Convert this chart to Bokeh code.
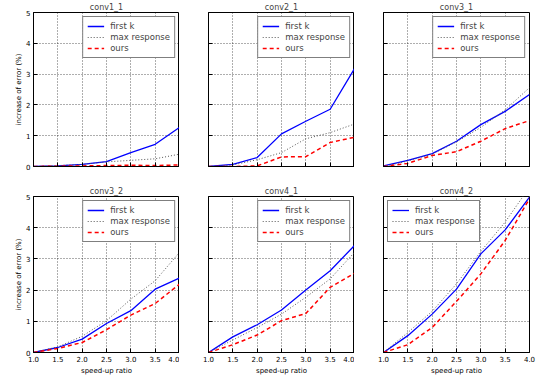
from bokeh.plotting import figure
from bokeh.layouts import column, row
from bokeh.models import Range1d, FixedTicker, Legend, LegendItem, ColumnDataSource
from bokeh.embed import file_html
from bokeh.resources import INLINE

speedup = [1.0, 1.5, 2.0, 2.5, 3.0, 3.5, 4.0]
x_ticks = [1.0, 1.5, 2.0, 2.5, 3.0, 3.5, 4.0]
x_tick_labels = ["1.0", "1.5", "2.0", "2.5", "3.0", "3.5", "4.0"]
y_ticks = [0, 1, 2, 3, 4, 5]
series_names = ["first k", "max response", "ours"]
layers = ["conv1_1", "conv2_1", "conv3_1", "conv3_2", "conv4_1", "conv4_2"]

conv1_1_first_k = [0.0, 0.02, 0.07, 0.16, 0.45, 0.72, 1.27]
conv1_1_max_resp = [0.0, 0.03, 0.07, 0.15, 0.20, 0.25, 0.40]
conv1_1_ours = [0.0, 0.01, 0.02, 0.03, 0.04, 0.03, 0.05]

conv2_1_first_k = [0.0, 0.07, 0.29, 1.06, 1.47, 1.86, 3.18]
conv2_1_max_resp = [0.0, 0.05, 0.22, 0.45, 0.90, 1.10, 1.38]
conv2_1_ours = [0.0, 0.0, 0.02, 0.31, 0.32, 0.78, 0.95]

conv3_1_first_k = [0.02, 0.20, 0.42, 0.82, 1.36, 1.79, 2.34]
conv3_1_max_resp = [0.0, 0.18, 0.40, 0.80, 1.27, 1.84, 2.56]
conv3_1_ours = [0.0, 0.10, 0.36, 0.48, 0.82, 1.23, 1.49]

conv3_2_first_k = [0.0, 0.16, 0.43, 0.93, 1.34, 2.03, 2.39]
conv3_2_max_resp = [0.0, 0.18, 0.52, 1.02, 1.71, 2.30, 3.21]
conv3_2_ours = [0.0, 0.13, 0.32, 0.73, 1.20, 1.57, 2.19]

conv4_1_first_k = [0.0, 0.50, 0.89, 1.36, 2.00, 2.62, 3.43]
conv4_1_max_resp = [0.0, 0.40, 0.80, 1.23, 1.77, 2.36, 3.21]
conv4_1_ours = [0.0, 0.25, 0.56, 1.02, 1.25, 2.09, 2.54]

conv4_2_first_k = [0.0, 0.54, 1.23, 2.03, 3.16, 3.93, 4.98]
conv4_2_max_resp = [0.0, 0.64, 1.32, 2.20, 3.24, 4.18, 5.30]
conv4_2_ours = [0.0, 0.25, 0.80, 1.64, 2.52, 3.59, 4.93]

data = {
    "conv1_1": (conv1_1_first_k, conv1_1_max_resp, conv1_1_ours),
    "conv2_1": (conv2_1_first_k, conv2_1_max_resp, conv2_1_ours),
    "conv3_1": (conv3_1_first_k, conv3_1_max_resp, conv3_1_ours),
    "conv3_2": (conv3_2_first_k, conv3_2_max_resp, conv3_2_ours),
    "conv4_1": (conv4_1_first_k, conv4_1_max_resp, conv4_1_ours),
    "conv4_2": (conv4_2_first_k, conv4_2_max_resp, conv4_2_ours),
}

FONT = "DejaVu Sans"


def make(idx):
    name = layers[idx]
    r, c = divmod(idx, 3)
    left = 33 if c == 0 else 29
    right = 25 if c == 2 else 0
    top = 0 if r == 0 else 25
    bottom = 5 if r == 0 else 24
    fh = 154 if r == 0 else 156
    p = figure(frame_width=146, frame_height=fh,
               min_border_left=left, min_border_right=right,
               min_border_top=top, min_border_bottom=bottom,
               x_range=Range1d(1.0, 4.0), y_range=Range1d(0, 5),
               output_backend="svg", toolbar_location=None,
               background_fill_color="white", border_fill_color="white")
    p.title.text = name
    p.title.align = "center"
    p.title.text_font = FONT
    p.title.text_font_size = "8px"
    p.title.text_font_style = "normal"
    p.title.text_line_height = 1.0
    p.title.standoff = 1
    p.outline_line_color = "black"
    p.outline_line_alpha = 1
    p.outline_line_width = 1

    p.xaxis.ticker = FixedTicker(ticks=x_ticks)
    p.yaxis.ticker = FixedTicker(ticks=y_ticks)
    for ax in (p.xaxis, p.yaxis):
        ax.major_tick_in = 4
        ax.major_tick_out = 0
        ax.minor_tick_line_color = None
        ax.axis_line_color = "black"
        ax.major_tick_line_color = "black"
        ax.major_label_text_font = FONT
        ax.major_label_text_font_size = "7px"
        ax.major_label_text_color = "black"
        ax.axis_label_text_font = FONT
        ax.axis_label_text_font_size = "7px"
        ax.axis_label_text_font_style = "normal"
        ax.axis_label_text_color = "black"
    p.xaxis.major_label_standoff = 3
    p.yaxis.major_label_standoff = 3
    if r == 1:
        p.xaxis.major_label_overrides = {t: l for t, l in zip(x_ticks, x_tick_labels)}
        p.xaxis.axis_label = "speed-up ratio"
        p.xaxis.axis_label_standoff = 2
    else:
        p.xaxis.major_label_overrides = {t: "" for t in x_ticks}
        p.xaxis.major_label_standoff = 0
    if c == 0:
        p.yaxis.axis_label = "increase of error (%)"
        p.yaxis.axis_label_standoff = 0
    else:
        p.yaxis.major_label_overrides = {t: "" for t in y_ticks}
        p.yaxis.major_label_standoff = 0

    for g in (p.xgrid, p.ygrid):
        g.grid_line_color = "black"
        g.grid_line_dash = "1 2"
        g.grid_line_width = 0.8
        g.grid_line_alpha = 0.8

    fk, mr, ours = data[name]
    src = ColumnDataSource(dict(x=speedup, fk=fk, mr=mr, ours=ours))
    r1 = p.line("x", "fk", source=src, line_color="#0000ff", line_width=1.3)
    r2 = p.line("x", "mr", source=src, line_color="#555555", line_width=1.0, line_dash="1 2")
    r3 = p.line("x", "ours", source=src, line_color="#ff0000", line_width=1.5, line_dash="4 3")

    legend = Legend(items=[LegendItem(label=series_names[0], renderers=[r1]),
                           LegendItem(label=series_names[1], renderers=[r2]),
                           LegendItem(label=series_names[2], renderers=[r3])],
                    location="top_left" if name == "conv4_2" else "top_right",
                    margin=4, padding=4, spacing=1,
                    label_height=10, glyph_height=10, glyph_width=17,
                    label_standoff=6,
                    label_text_font=FONT, label_text_font_size="8.5px",
                    border_line_color="black", border_line_width=1,
                    background_fill_color="white", background_fill_alpha=1)
    p.add_layout(legend)
    return p


figs = [make(i) for i in range(6)]
layout = column(row(*figs[:3], spacing=0), row(*figs[3:], spacing=0), spacing=0)
open("out.html", "w").write(file_html(layout, INLINE))
